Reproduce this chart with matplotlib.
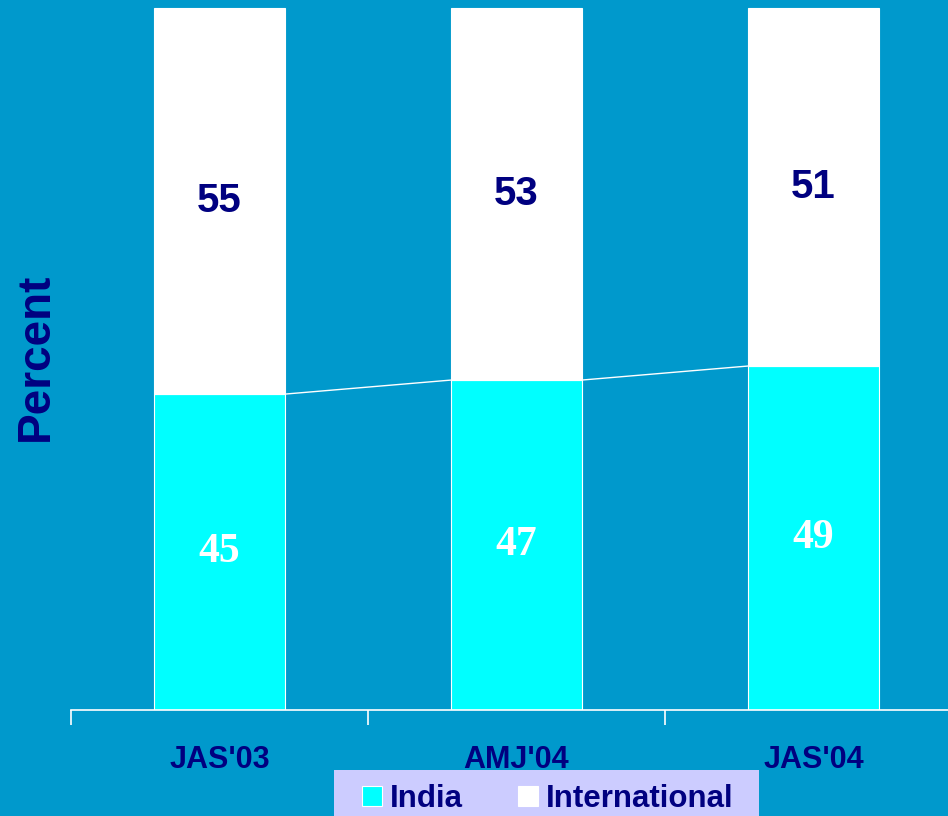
import matplotlib
matplotlib.use("Agg")
import matplotlib.pyplot as plt
from matplotlib.patches import Patch, Rectangle
import numpy as np

# Share of responses by period
periods = ["JAS'03", "AMJ'04", "JAS'04"]
india = [45, 47, 49]
international = [55, 53, 51]

BG = "#0099CC"
NAVY = "#000080"
CYAN = "#00FFFF"
WHITE = "#FFFFFF"
LEGEND_BG = "#CCCCFF"
W, H = 948, 816

fig = plt.figure(figsize=(W / 100, H / 100), dpi=100)
fig.patch.set_facecolor(BG)
ax = fig.add_axes([71 / W, 106 / H, 877 / W, 710 / H])
ax.set_facecolor(BG)

x = np.arange(len(periods))
width = 0.44
ax.bar(x, india, width, color=CYAN, edgecolor=WHITE, linewidth=0.8, label="India")
ax.bar(x, international, width, bottom=india, color=WHITE, edgecolor=WHITE,
       linewidth=0.8, label="International")

# series lines joining the tops of the India segments
for i in range(len(periods) - 1):
    ax.plot([x[i] + width / 2, x[i + 1] - width / 2], [india[i], india[i + 1]],
            color=WHITE, linewidth=1.0)

# value labels
for xi, a, b in zip(x, india, international):
    ax.text(xi, a / 2, f"{a}", ha="center", va="center", color=WHITE,
            fontsize=30, fontweight="bold", family="Liberation Serif")
    ax.text(xi, a + b / 2, f"{b}", ha="center", va="center", color=NAVY,
            fontsize=29, fontweight="bold", family="Liberation Sans")

ax.set_xlim(-0.5, -0.5 + 877 / 297)
ax.set_ylim(0, 710 / 7.02)

for s in ["left", "right", "top"]:
    ax.spines[s].set_visible(False)
ax.spines["bottom"].set_color(WHITE)
ax.spines["bottom"].set_linewidth(1.2)

ax.set_yticks([])
ax.set_xticks([-0.5, 0.5, 1.5])
ax.set_xticklabels([])
ax.tick_params(axis="x", which="major", direction="out", length=11,
               width=1.2, color=WHITE)
ax.set_xticks(x, minor=True)
ax.set_xticklabels(periods, minor=True, color=NAVY, fontsize=22,
                   fontweight="bold", family="Liberation Sans")
ax.tick_params(axis="x", which="minor", length=0, pad=25)

fig.text(36 / W, 1 - 357 / H, "Percent", rotation=90, ha="center",
         va="center", color=NAVY, fontsize=33, fontweight="bold",
         family="Liberation Sans")

# legend panel
fig.patches.append(Rectangle((334 / W, 0), (759 - 334) / W, (H - 770) / H,
                             transform=fig.transFigure, facecolor=LEGEND_BG,
                             edgecolor="none", zorder=1))
handles = [Patch(facecolor=CYAN, edgecolor=WHITE, linewidth=0.8),
           Patch(facecolor=WHITE, edgecolor=WHITE, linewidth=0.8)]
leg = fig.legend(handles, ["India", "International"], ncol=2,
                 loc="upper left", bbox_to_anchor=(362 / W, 1 - 784 / H),
                 frameon=False, handlelength=0.64, handleheight=0.64,
                 handletextpad=0.26, columnspacing=1.76,
                 borderpad=0, borderaxespad=0,
                 prop={"family": "Liberation Sans", "weight": "bold", "size": 22.5})
leg.set_zorder(2)
for t in leg.get_texts():
    t.set_color(NAVY)

fig.savefig("out.png", dpi=100, facecolor=BG)
